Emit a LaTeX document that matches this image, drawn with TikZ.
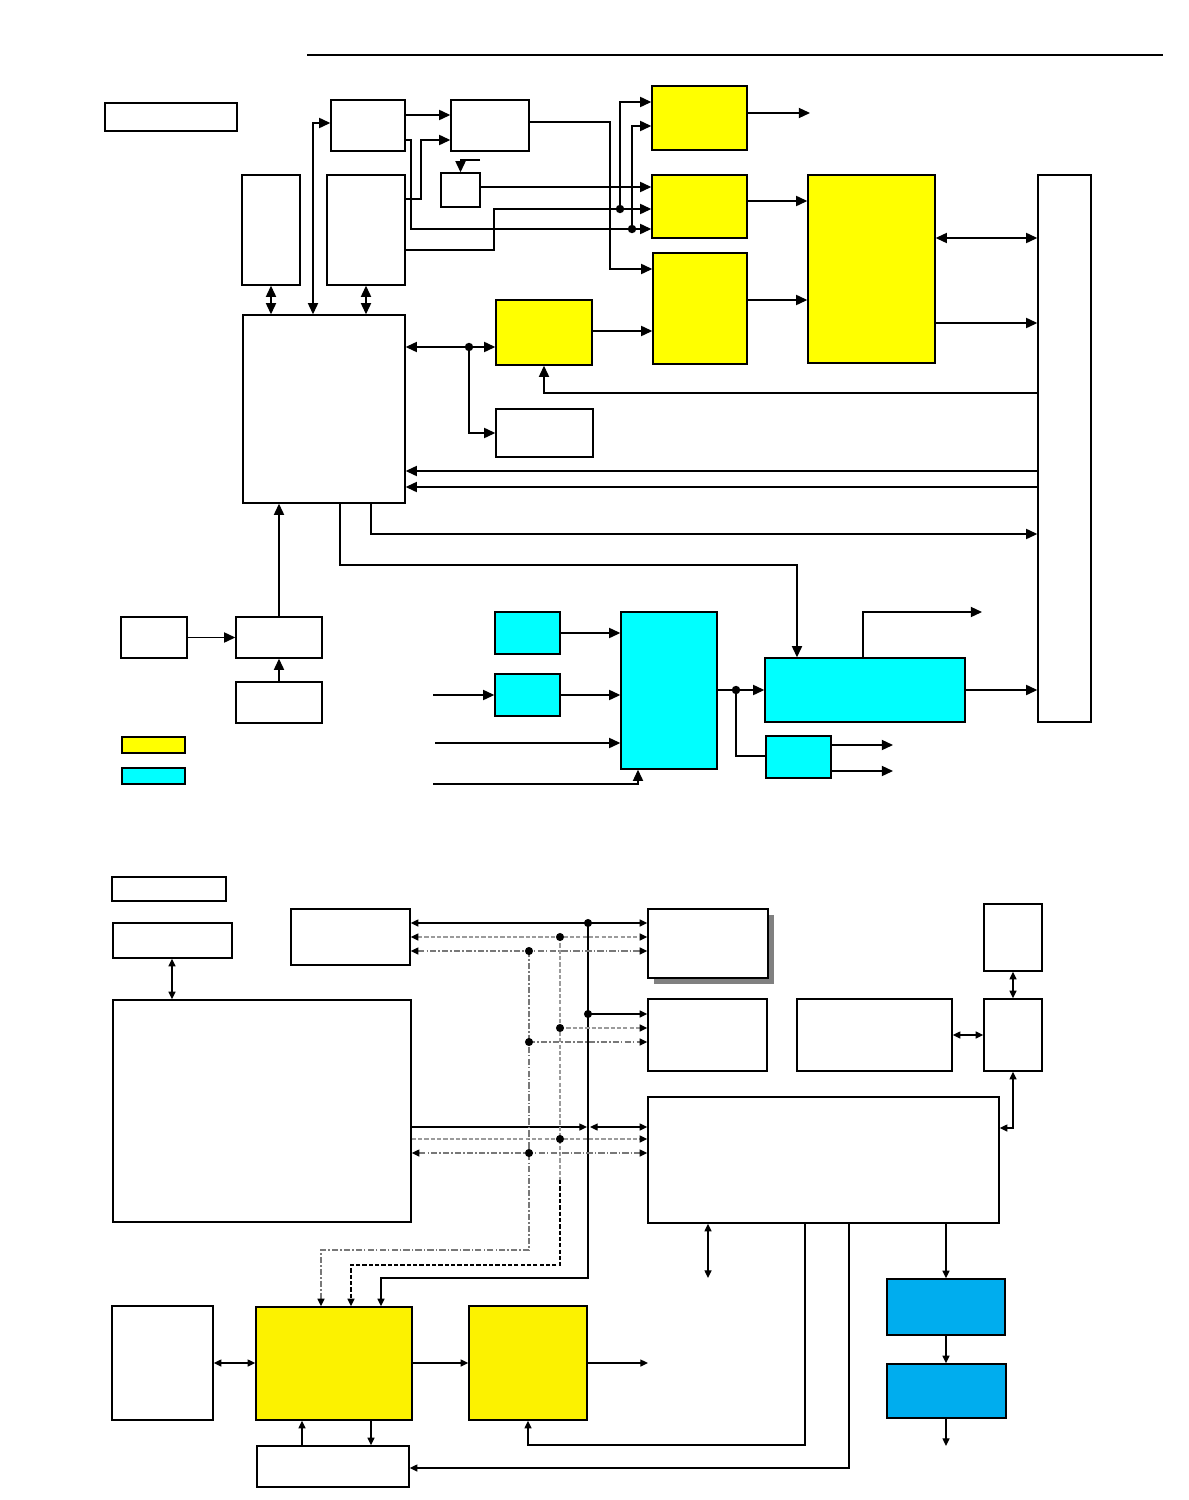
\documentclass[tikz,border=0pt]{standalone}
\usepackage{tikz}
\usetikzlibrary{calc, positioning, arrows.meta, fit}
\definecolor{chipY}{RGB}{255,255,0}
\definecolor{chipYb}{RGB}{252,242,0}
\definecolor{chipC}{RGB}{0,255,255}
\definecolor{chipB}{RGB}{0,173,238}
\definecolor{shadowG}{RGB}{128,128,128}
\definecolor{busG}{RGB}{155,155,155}
\definecolor{busD}{RGB}{120,120,120}

\begin{document}
\begin{tikzpicture}[x=0.1mm, y=-0.1mm, line width=0.4pt,
  blk/.style={draw, fill=white, inner sep=0pt},
  ylw/.style={blk, fill=chipY},
  ylwb/.style={blk, fill=chipYb},
  cyn/.style={blk, fill=chipC},
  blu/.style={blk, fill=chipB},
  >={Triangle[length=3.2pt,width=2.9pt]}]
  \useasboundingbox (0,0) rectangle (1189,1500);
  \draw[line width=0.6pt] (307,55) -- (1163,55);
  % upper diagram: blocks
  \node[blk, fit={(105,103) (237,131)}] (tag1) {};
  \node[blk, fit={(331,100) (405,151)}] (src) {};
  \node[blk, fit={(451,100) (529,151)}] (mix) {};
  \node[blk, fit={(441,173) (480,207)}] (osc) {};
  \node[blk, fit={(242,175) (300,285)}] (memA) {};
  \node[blk, fit={(327,175) (405,285)}] (memB) {};
  \node[blk, fit={(243,315) (405,503)}] (cpu) {};
  \node[ylw, fit={(652,86) (747,150)}] (y1) {};
  \node[ylw, fit={(652,175) (747,238)}] (y2) {};
  \node[ylw, fit={(653,253) (747,364)}] (y3) {};
  \node[ylw, fit={(808,175) (935,363)}] (y4) {};
  \node[blk, fit={(1038,175) (1091,722)}] (bus) {};
  \node[ylw, fit={(496,300) (592,365)}] (y5) {};
  \node[blk, fit={(496,409) (593,457)}] (aux) {};
  \node[blk, fit={(121,617) (187,658)}] (inG) {};
  \node[blk, fit={(236,617) (322,658)}] (ctl) {};
  \node[blk, fit={(236,682) (322,723)}] (inI) {};
  \node[ylw, fit={(122,737) (185,753)}] (keyY) {};
  \node[cyn, fit={(122,768) (185,784)}] (keyC) {};
  \node[cyn, fit={(495,612) (560,654)}] (c1) {};
  \node[cyn, fit={(495,674) (560,716)}] (c2) {};
  \node[cyn, fit={(621,612) (717,769)}] (c3) {};
  \node[cyn, fit={(765,658) (965,722)}] (c4) {};
  \node[cyn, fit={(766,736) (831,778)}] (c5) {};
  % upper diagram: connectors
  \coordinate (j1) at (632,229);
  \coordinate (j2) at (620,209);
  \coordinate (j3) at (469,347);
  \coordinate (j4) at (736,690);
  \coordinate (oscin) at (480,160);
  \coordinate (o1) at (810,113);
  \coordinate (o2) at (982,612);
  \coordinate (o3) at (893,745);
  \coordinate (o4) at (893,771);
  \coordinate (i1) at (433,695);
  \coordinate (i2) at (435,743);
  \coordinate (i3) at (433,784);
  \draw[->] (src.east |- 0,115) -- (mix.west |- 0,115);
  \draw[->] (memB.east |- 0,199) -| (421,140) -- (mix.west |- 0,140);
  \draw[->] (src.east |- 0,140) -| (411,229) -- (y2.west |- j1);
  \draw[->] (j1) |- (y1.west |- 0,126);
  \draw[->] (memB.east |- 0,250) -| (494,209) -- (y2.west |- j2);
  \draw[->] (j2) |- (y1.west |- 0,102);
  \fill (j1) circle (1.2pt);
  \fill (j2) circle (1.2pt);
  \draw[->] (oscin) -| (osc.north);
  \draw[->] (osc.east |- 0,187) -- (y2.west |- 0,187);
  \draw[->] (mix.east |- 0,122) -| (610,269) -- (y3.west |- 0,269);
  \draw[->] (y1.east |- o1) -- (o1);
  \draw[->] (y2.east |- 0,201) -- (y4.west |- 0,201);
  \draw[->] (y3.east |- 0,300) -- (y4.west |- 0,300);
  \draw[<->] (y4.east |- 0,238) -- (bus.west |- 0,238);
  \draw[->] (y4.east |- 0,323) -- (bus.west |- 0,323);
  \draw[<->] (memA.south) -- (cpu.north -| memA.south);
  \draw[<->] (memB.south) -- (cpu.north -| memB.south);
  \draw[<->] (cpu.north -| 313,0) |- (src.west |- 0,123);
  \draw[<->] (cpu.east |- j3) -- (y5.west |- j3);
  \draw[->] (j3) |- (aux.west);
  \fill (j3) circle (1.2pt);
  \draw[->] (y5.east |- 0,331) -- (y3.west |- 0,331);
  \draw[->] (bus.west |- 0,393) -| (y5.south);
  \draw[->] (bus.west |- 0,471) -- (cpu.east |- 0,471);
  \draw[->] (bus.west |- 0,487) -- (cpu.east |- 0,487);
  \draw[->] (cpu.south -| 371,0) |- (bus.west |- 0,534);
  \draw[->] (cpu.south -| 340,0) |- (797,565) -- (c4.north -| 797,0);
  \draw[->] (ctl.north) -- (cpu.south -| ctl.north);
  \draw[->] (inG.east) -- (ctl.west);
  \draw[->] (inI.north) -- (ctl.south);
  \draw[->] (c4.north -| 863,0) |- (o2);
  \draw[->] (c4.east) -- (bus.west |- c4.east);
  \draw[->] (c3.east |- j4) -- (c4.west |- j4);
  \draw (j4) |- (c5.west |- 0,756);
  \fill (j4) circle (1.2pt);
  \draw[->] (c5.east |- o3) -- (o3);
  \draw[->] (c5.east |- o4) -- (o4);
  \draw[->] (c1.east) -- (c3.west |- c1.east);
  \draw[->] (c2.east) -- (c3.west |- c2.east);
  \draw[->] (i1) -- (c2.west);
  \draw[->] (i2) -- (c3.west |- i2);
  \draw[->] (i3) -| (c3.south -| 638,0);
  % lower diagram: blocks
  \node[blk, fit={(112,877) (226,901)}] (tag2) {};
  \node[blk, fit={(113,923) (232,958)}] (tag3) {};
  \node[blk, fit={(291,909) (410,965)}] (hostP) {};
  \fill[shadowG] (654,915) rectangle (774,984);
  \node[blk, fit={(648,909) (768,978)}] (devQ) {};
  \node[blk, fit={(648,999) (767,1071)}] (devS) {};
  \node[blk, fit={(797,999) (952,1071)}] (devT) {};
  \node[blk, fit={(984,904) (1042,971)}] (devU) {};
  \node[blk, fit={(984,999) (1042,1071)}] (devV) {};
  \node[blk, fit={(113,1000) (411,1222)}] (core) {};
  \node[blk, fit={(648,1097) (999,1223)}] (devX) {};
  \node[blk, fit={(112,1306) (213,1420)}] (memY) {};
  \node[ylwb, fit={(256,1307) (412,1420)}] (z1) {};
  \node[ylwb, fit={(469,1306) (587,1420)}] (z2) {};
  \node[blk, fit={(257,1446) (409,1487)}] (drvK) {};
  \node[blu, fit={(887,1279) (1005,1335)}] (b1) {};
  \node[blu, fit={(887,1364) (1006,1418)}] (b2) {};
  % lower diagram: three buses
  \begin{scope}[>={Triangle[length=2.2pt,width=2pt,color=black]},
    dsh/.style={busG, dash pattern=on 1.2pt off 0.6pt},
    dshk/.style={black, dash pattern=on 1.2pt off 0.6pt},
    dd/.style={busD, dash pattern=on 1.8pt off 0.6pt on 0.4pt off 0.6pt}]
    \coordinate (s1) at (588,923);
    \coordinate (s2) at (588,1014);
    \coordinate (s3) at (587,1127);
    \coordinate (s4) at (590,1127);
    \coordinate (d1) at (560,937);
    \coordinate (d2) at (560,1028);
    \coordinate (d3) at (560,1139);
    \coordinate (e1) at (529,951);
    \coordinate (e2) at (529,1042);
    \coordinate (e3) at (529,1153);
    \draw[<->] (hostP.east |- s1) -- (devQ.west |- s1);
    \draw[->] (s1) -- (588,1278) -| (z1.north -| 381,0);
    \draw[->] (s2) -- (devS.west |- s2);
    \draw[->] (core.east |- s3) -- (s3);
    \draw[<->] (s4) -- (devX.west |- s4);
    \draw[dsh, <->] (hostP.east |- d1) -- (devQ.west |- d1);
    \draw[dsh] (d1) -- (560,1180);
    \draw[dshk, ->] (560,1180) -- (560,1265) -| (z1.north -| 351,0);
    \draw[dsh, ->] (d2) -- (devS.west |- d2);
    \draw[dsh, ->] (core.east |- d3) -- (devX.west |- d3);
    \draw[dd, <->] (hostP.east |- e1) -- (devQ.west |- e1);
    \draw[dd, ->] (e1) -- (529,1250) -| (z1.north -| 321,0);
    \draw[dd, ->] (e2) -- (devS.west |- e2);
    \draw[dd, <->] (core.east |- e3) -- (devX.west |- e3);
    \foreach \j in {s1,s2,d1,d2,d3,e1,e2,e3}
      \fill (\j) circle (1.15pt);
    % remaining links
    \coordinate (xb) at (708,1278);
    \coordinate (o5) at (946,1446);
    \coordinate (o6) at (648,1363);
    \draw[<->] (tag3.south -| 172,0) -- (core.north -| 172,0);
    \draw[<->] (devT.east) -- (devV.west);
    \draw[<->] (devU.south) -- (devV.north);
    \draw[<->] (devV.south) |- (devX.east |- 0,1128);
    \draw[<->] (devX.south -| xb) -- (xb);
    \draw[->] (devX.south -| 805,0) |- (z2.south |- 0,1445) -- (z2.south);
    \draw[->] (devX.south -| 849,0) |- (drvK.east |- 0,1468);
    \draw[->] (devX.south -| b1.north) -- (b1.north);
    \draw[->] (b1.south) -- (b2.north -| b1.south);
    \draw[->] (b2.south -| o5) -- (o5);
    \draw[<->] (memY.east |- 0,1363) -- (z1.west |- 0,1363);
    \draw[->] (z1.east |- 0,1363) -- (z2.west |- 0,1363);
    \draw[->] (z2.east |- o6) -- (o6);
    \draw[->] (drvK.north -| 302,0) -- (z1.south -| 302,0);
    \draw[->] (z1.south -| 371,0) -- (drvK.north -| 371,0);
  \end{scope}
\end{tikzpicture}
\end{document}
